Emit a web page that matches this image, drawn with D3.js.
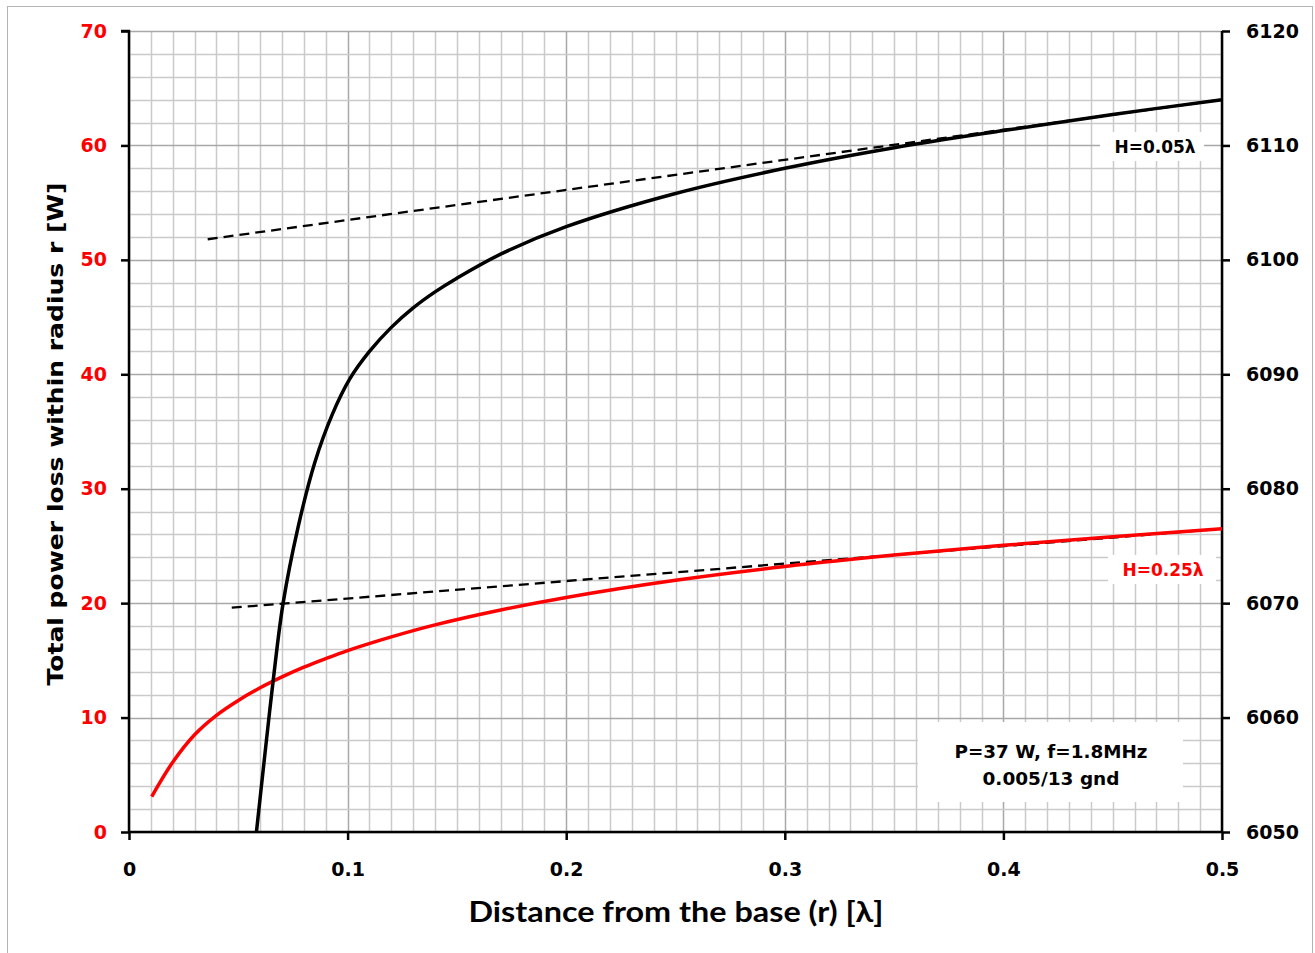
<!DOCTYPE html>
<html>
<head>
<meta charset="utf-8">
<script src="https://cdn.jsdelivr.net/npm/d3@7"></script>
<style>
  body { margin: 0; background: #fff; }
  svg { display: block; }
</style>
</head>
<body>
<div id="chart"></div>
<script>
// H=0.25λ curve, left axis [W]
var redR   = [0.0104, 0.02, 0.03, 0.04, 0.05, 0.06, 0.07, 0.08, 0.09, 0.1, 0.12, 0.14, 0.17, 0.2, 0.25, 0.3, 0.35, 0.4, 0.45, 0.5];
var redP   = [3.1, 6.1, 8.5, 10.2, 11.5, 12.6, 13.55, 14.4, 15.15, 15.85, 17.05, 18.1, 19.4, 20.5, 22.0, 23.2, 24.2, 25.05, 25.8, 26.5];

// H=0.05λ curve, right axis
var blackR = [0.0583, 0.062, 0.066, 0.0705, 0.0773, 0.085, 0.093, 0.101, 0.11, 0.12, 0.13, 0.14, 0.15, 0.17, 0.2, 0.25, 0.3, 0.35, 0.4, 0.45, 0.5];
var blackP = [6050, 6056.5, 6063.3, 6070, 6076.6, 6082.3, 6086.5, 6089.6, 6092.0, 6094.1, 6095.8, 6097.2, 6098.4, 6100.5, 6102.9, 6105.8, 6108.0, 6109.8, 6111.3, 6112.7, 6114.0];

// asymptote lines (dashed)
var tanBlackR = [0.036, 0.5], tanBlackP = [6101.8, 6114.0];
var tanRedR   = [0.047, 0.5], tanRedP   = [19.6, 26.5];

var xTicks  = [0, 0.1, 0.2, 0.3, 0.4, 0.5];
var yTicks  = [0, 10, 20, 30, 40, 50, 60, 70];
var y2Ticks = [6050, 6060, 6070, 6080, 6090, 6100, 6110, 6120];

var width = 1315, height = 953;
var margin = {top: 31, right: 93, bottom: 121, left: 129};

var svg = d3.select("#chart").append("svg")
    .attr("width", width)
    .attr("height", height);

// outer frame
svg.append("rect")
    .attr("x", 7.5).attr("y", 6.5)
    .attr("width", 1305).attr("height", 960)
    .attr("fill", "none")
    .attr("stroke", "#b4b4b4")
    .attr("stroke-width", 1);

var x = d3.scaleLinear().domain([0, 0.5]).range([margin.left, width - margin.right]);
var y = d3.scaleLinear().domain([0, 70]).range([height - margin.bottom, margin.top]);
var y2 = d3.scaleLinear().domain([6050, 6120]).range([height - margin.bottom, margin.top]);

// grid
var grid = svg.append("g");
grid.selectAll(".vminor")
    .data(d3.range(0, 51).map(function(i) { return i / 100; }))
  .enter().append("line")
    .attr("x1", function(d) { return Math.round(x(d)) + 0.5; })
    .attr("x2", function(d) { return Math.round(x(d)) + 0.5; })
    .attr("y1", y(70)).attr("y2", y(0))
    .attr("stroke", function(d, i) { return i % 10 === 0 ? "#a8a8a8" : "#cacaca"; })
    .attr("stroke-width", 1.5);
grid.selectAll(".hminor")
    .data(d3.range(0, 36).map(function(i) { return i * 2; }))
  .enter().append("line")
    .attr("y1", function(d) { return Math.round(y(d)) + 0.5; })
    .attr("y2", function(d) { return Math.round(y(d)) + 0.5; })
    .attr("x1", x(0)).attr("x2", x(0.5))
    .attr("stroke", function(d) { return d % 10 === 0 ? "#a8a8a8" : "#cacaca"; })
    .attr("stroke-width", 1.5);

// label boxes (white backgrounds over grid)
var boxes = [
  {x0: 1100, y0: 132, w: 104, h: 29},
  {x0: 1108, y0: 555, w: 108, h: 29},
  {x0: 918, y0: 722, w: 265, h: 80}
];
svg.selectAll(".box").data(boxes).enter().append("rect")
    .attr("x", function(d) { return d.x0; })
    .attr("y", function(d) { return d.y0; })
    .attr("width", function(d) { return d.w; })
    .attr("height", function(d) { return d.h; })
    .attr("fill", "#fff");

// axes
var font = "'DejaVu Sans', sans-serif";

var xAxis = svg.append("g")
    .attr("transform", "translate(0," + y(0) + ")")
    .call(d3.axisBottom(x).tickValues(xTicks).tickSize(8).tickFormat(d3.format("")));
var yAxis = svg.append("g")
    .attr("transform", "translate(" + x(0) + ",0)")
    .call(d3.axisLeft(y).tickValues(yTicks).tickSize(8).tickPadding(14));
var y2Axis = svg.append("g")
    .attr("transform", "translate(" + x(0.5) + ",0)")
    .call(d3.axisRight(y2).tickValues(y2Ticks).tickSize(8).tickPadding(16).tickFormat(d3.format("d")));

[xAxis, yAxis, y2Axis].forEach(function(a) {
  a.select(".domain").attr("stroke", "#000").attr("stroke-width", 2.5);
  a.selectAll(".tick line").attr("stroke", "#000").attr("stroke-width", 2.5);
  a.selectAll("text")
    .attr("font-family", font)
    .attr("font-weight", "bold")
    .attr("font-size", 19);
});
xAxis.selectAll("text").attr("dy", "1.75em");
yAxis.selectAll("text").attr("fill", "#ff0000");
y2Axis.selectAll("text").attr("fill", "#000");
xAxis.select(".domain").attr("d", "M" + x(0) + ",0H" + x(0.5));
yAxis.select(".domain").attr("d", "M0," + y(0) + "V" + y(70) + "H-8");
y2Axis.select(".domain").attr("d", "M0," + y2(6050) + "V" + y2(6120));

// curves
var lineRed = d3.line()
    .x(function(d) { return x(d[0]); })
    .y(function(d) { return y(d[1]); })
    .curve(d3.curveCatmullRom.alpha(0.5));
var lineBlack = d3.line()
    .x(function(d) { return x(d[0]); })
    .y(function(d) { return y2(d[1]); })
    .curve(d3.curveCatmullRom.alpha(0.5));

svg.append("path")
    .datum(d3.zip(tanBlackR, tanBlackP))
    .attr("d", lineBlack)
    .attr("fill", "none")
    .attr("stroke", "#000")
    .attr("stroke-width", 2.3)
    .attr("stroke-dasharray", "10,6");
svg.append("path")
    .datum(d3.zip(tanRedR, tanRedP))
    .attr("d", lineRed)
    .attr("fill", "none")
    .attr("stroke", "#000")
    .attr("stroke-width", 2.3)
    .attr("stroke-dasharray", "10,6");

svg.append("path")
    .datum(d3.zip(redR, redP))
    .attr("d", lineRed)
    .attr("fill", "none")
    .attr("stroke", "#ff0000")
    .attr("stroke-width", 3.5);
svg.append("path")
    .datum(d3.zip(blackR, blackP))
    .attr("d", lineBlack)
    .attr("fill", "none")
    .attr("stroke", "#000")
    .attr("stroke-width", 3.5);

// labels
svg.append("text")
    .attr("x", 1155).attr("y", 153)
    .attr("text-anchor", "middle")
    .attr("font-family", font).attr("font-weight", "bold").attr("font-size", 17)
    .attr("fill", "#000")
    .text("H=0.05λ");
svg.append("text")
    .attr("x", 1163).attr("y", 576)
    .attr("text-anchor", "middle")
    .attr("font-family", font).attr("font-weight", "bold").attr("font-size", 17)
    .attr("fill", "#ff0000")
    .text("H=0.25λ");
svg.append("text")
    .attr("x", 1051).attr("y", 758)
    .attr("text-anchor", "middle")
    .attr("font-family", font).attr("font-weight", "bold").attr("font-size", 17)
    .attr("textLength", 193).attr("lengthAdjust", "spacingAndGlyphs")
    .text("P=37 W, f=1.8MHz");
svg.append("text")
    .attr("x", 1051).attr("y", 785)
    .attr("text-anchor", "middle")
    .attr("font-family", font).attr("font-weight", "bold").attr("font-size", 17)
    .attr("textLength", 137).attr("lengthAdjust", "spacingAndGlyphs")
    .text("0.005/13 gnd");

// axis titles
svg.append("text")
    .attr("x", 676).attr("y", 922)
    .attr("text-anchor", "middle")
    .attr("font-family", "Lato, 'Open Sans', sans-serif")
    .attr("font-weight", "bold").attr("font-size", 28)
    .attr("textLength", 415).attr("lengthAdjust", "spacingAndGlyphs")
    .text("Distance from the base (r) [λ]");
svg.append("text")
    .attr("transform", "translate(63,434) rotate(-90)")
    .attr("text-anchor", "middle")
    .attr("font-family", font)
    .attr("font-weight", "bold").attr("font-size", 22)
    .attr("textLength", 503).attr("lengthAdjust", "spacingAndGlyphs")
    .text("Total power loss within radius r [W]");
</script>
</body>
</html>
